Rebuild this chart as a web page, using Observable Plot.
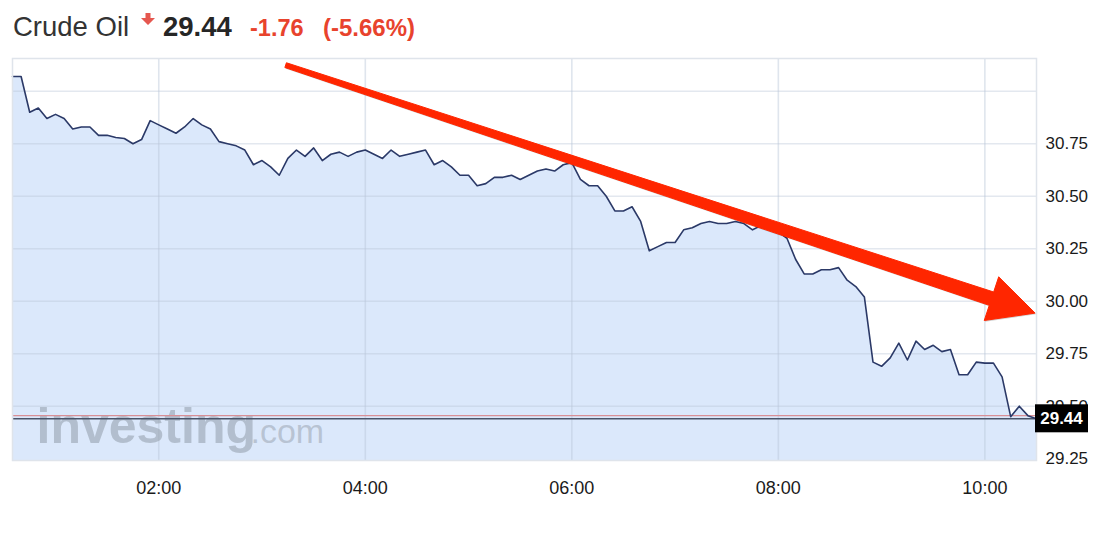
<!DOCTYPE html>
<html><head><meta charset="utf-8">
<script src="https://cdn.jsdelivr.net/npm/d3@7"></script>
<script src="https://cdn.jsdelivr.net/npm/@observablehq/plot@0.6"></script>
<style>
body{margin:0;background:#fff;font-family:"Liberation Sans",Arial,sans-serif;}
#wrap{position:relative;width:1120px;height:543px;overflow:hidden;background:#fff}
#hdr{position:absolute;left:0;top:0}
#chart{position:absolute;left:0;top:50px}
</style></head>
<body><div id="wrap"><div id="hdr"></div><div id="chart"></div></div>
<script>
// ---------- data ----------
const instrument = "Crude Oil";
const lastText = "29.44";
const changeText = "-1.76";
const changePctText = "(-5.66%)";
const startTime = "00:35";
const stepMinutes = 5;
const prices = [
  31.07,31.07,30.90,30.92,30.87,30.89,30.87,30.82,30.83,30.83,
  30.79,30.79,30.78,30.775,30.75,30.77,30.86,30.84,30.82,30.80,
  30.83,30.87,30.84,30.82,30.76,30.75,30.74,30.72,30.65,30.67,
  30.64,30.60,30.68,30.72,30.69,30.73,30.67,30.70,30.71,30.69,
  30.71,30.72,30.70,30.68,30.72,30.69,30.70,30.71,30.72,30.65,
  30.67,30.64,30.60,30.60,30.55,30.56,30.59,30.59,30.60,30.58,
  30.60,30.62,30.63,30.62,30.65,30.66,30.58,30.55,30.55,30.50,
  30.43,30.43,30.45,30.38,30.24,30.26,30.28,30.28,30.34,30.35,
  30.37,30.38,30.37,30.37,30.38,30.37,30.34,30.36,30.34,30.33,
  30.30,30.20,30.13,30.13,30.15,30.15,30.16,30.10,30.07,30.02,
  29.71,29.69,29.73,29.80,29.72,29.81,29.77,29.79,29.76,29.77,
  29.65,29.65,29.71,29.705,29.705,29.64,29.45,29.50,29.455,29.44
];
const xTickLabels = ["02:00","04:00","06:00","08:00","10:00"];
const yTickLabels = [29.25,29.50,29.75,30.00,30.25,30.50,30.75];
const yGridValues = [29.50,29.75,30.00,30.25,30.50,30.75,31.00];
const yDomain = [29.2414, 31.156];
const lastPrice = 29.44;
const refPrice = 29.455;
const arrowStart = ["03:14", 31.122];
const arrowTip = ["10:29.5", 29.941];
const watermarkMain = "investing";
const watermarkSuffix = ".com";

// ---------- helpers ----------
const base = Date.UTC(2016,0,1);
const parseT = s => { const [h,m] = s.split(":").map(Number); return new Date(base + (h*60+m)*60000); };
const t0 = parseT(startTime);
const data = prices.map((v,i) => ({t: new Date(+t0 + i*stepMinutes*60000), v}));
const xTicks = xTickLabels.map(parseT);
const FONT = "Liberation Sans, Arial, sans-serif";

// ---------- header ----------
const hdr = d3.select("#hdr").append("svg").attr("width",1120).attr("height",50)
  .style("font-family",FONT);
hdr.append("text").attr("x",13).attr("y",36).attr("font-size",27.5).attr("fill","#333").text(instrument);
hdr.append("path").attr("d","M145.5,13 H150.5 V18 H155 L148,25 L141,18 H145.5 Z").attr("fill","#e5574f");
hdr.append("text").attr("x",163).attr("y",36).attr("font-size",27.5).attr("font-weight","bold").attr("fill","#262626").text(lastText);
hdr.append("text").attr("x",250).attr("y",36).attr("font-size",23.5).attr("font-weight","bold").attr("fill","#e8432d").text(changeText);
hdr.append("text").attr("x",323).attr("y",36).attr("font-size",24).attr("font-weight","bold").attr("fill","#e8432d").text(changePctText);

// ---------- chart ----------
const arrowMark = (index, {x, y}) => {
  const x0 = x(parseT(arrowStart[0])), y0 = y(arrowStart[1]);
  const x1 = x(parseT(arrowTip[0])), y1 = y(arrowTip[1]);
  const dx = x1-x0, dy = y1-y0, L = Math.hypot(dx,dy), ux = dx/L, uy = dy/L, px = -uy, py = ux;
  const headLen = 46, headHalf = 23, w0 = 2.5, w1 = 7;
  const bx = x1-ux*headLen, by = y1-uy*headLen;
  const pts = [[x0+px*w0,y0+py*w0],[bx+px*w1,by+py*w1],[bx+px*headHalf,by+py*headHalf],[x1,y1],
               [bx-px*headHalf,by-py*headHalf],[bx-px*w1,by-py*w1],[x0-px*w0,y0-py*w0]];
  const g = d3.create("svg:g");
  g.append("polygon").attr("points", pts.map(p=>p.join(",")).join(" "))
    .attr("fill","rgba(0,0,0,0.18)").attr("transform","translate(0.8,1.2)");
  g.append("polygon").attr("points", pts.map(p=>p.join(",")).join(" "))
    .attr("fill","#ff2600").attr("stroke","#ff2600").attr("stroke-width",1).attr("stroke-linejoin","round");
  return g.node();
};
const priceBox = (index, {y}, values, {width, marginRight}) => {
  const g = d3.create("svg:g");
  const cy = y(lastPrice), bx = width - marginRight - 1;
  g.append("rect").attr("x",bx).attr("y",cy-14).attr("width",53).attr("height",28).attr("fill","#000");
  g.append("text").attr("x",bx+26.5).attr("y",cy).attr("dy","0.36em").attr("text-anchor","middle")
    .attr("fill","#fff").attr("font-weight","bold").attr("font-size",17).attr("font-family",FONT).text(lastText);
  return g.node();
};

const chart = Plot.plot({
  width: 1120, height: 493,
  marginTop: 8, marginBottom: 83, marginLeft: 12, marginRight: 84,
  style: {fontFamily: FONT, fontSize: "17px", color: "#1a1a1a", background: "transparent"},
  x: {type: "utc", domain: [data[0].t, data[data.length-1].t], label: null},
  y: {domain: yDomain, label: null},
  marks: [
    Plot.areaY(data, {x: "t", y: "v", fill: "#dbe8fb", clip: true}),
    Plot.gridX(xTicks, {stroke: "#b9c6d8", strokeOpacity: 0.45, strokeWidth: 1.6}),
    Plot.gridY(yGridValues, {stroke: "#b9c6d8", strokeOpacity: 0.4, strokeWidth: 1.6}),
    Plot.text([watermarkMain], {frameAnchor: "bottom-left", textAnchor: "start", lineAnchor: "bottom", dx: 24, dy: -18,
      fontSize: 50, fontWeight: "bold", fill: "#9aa4b1", fillOpacity: 0.62, text: d => d}),
    Plot.text([watermarkSuffix], {frameAnchor: "bottom-left", textAnchor: "start", lineAnchor: "bottom", dx: 238, dy: -18,
      fontSize: 34, fill: "#9aa4b1", fillOpacity: 0.55, text: d => d}),
    Plot.ruleY([refPrice], {stroke: "#d88f96", strokeWidth: 1.2}),
    Plot.ruleY([lastPrice], {stroke: "#49546a", strokeWidth: 1.4}),
    Plot.lineY(data, {x: "t", y: "v", stroke: "#2b3967", strokeWidth: 1.6}),
    Plot.frame({stroke: "#dfe4eb", strokeWidth: 1.5}),
    Plot.axisX({ticks: xTicks, tickFormat: d3.utcFormat("%H:%M"), tickSize: 0, tickPadding: 21, fontSize: 18, fill: "#1a1a1a", label: null}),
    Plot.axisY({anchor: "right", ticks: yTickLabels, tickFormat: d => d.toFixed(2), tickSize: 0, tickPadding: 9, fontSize: 17, fill: "#1a1a1a", label: null}),
    arrowMark,
    priceBox
  ]
});
document.getElementById("chart").appendChild(chart);
</script>
</body></html>
